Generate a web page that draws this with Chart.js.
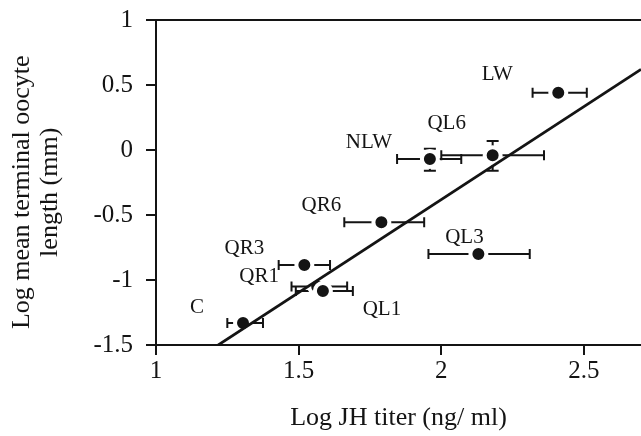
<!DOCTYPE html>
<html>
<head>
<meta charset="utf-8">
<script src="https://cdn.jsdelivr.net/npm/chart.js@4"></script>
<style>
  html, body { margin: 0; padding: 0; background: #fff; }
  #wrap { width: 641px; height: 436px; }
</style>
</head>
<body>
<div id="wrap"><canvas id="chart"></canvas></div>
<script>
// Data
const groups     = ['LW', 'NLW', 'QL6', 'QR6', 'QL3', 'QR3', 'QR1', 'QL1', 'C'];
const jhTiter    = [2.41, 1.96, 2.18, 1.79, 2.13, 1.52, 1.565, 1.585, 1.305];
const oocyteLen  = [0.44, -0.07, -0.04, -0.555, -0.80, -0.885, -1.05, -1.085, -1.33];
const xErrLow    = [2.32, 1.845, 2.00, 1.66, 1.955, 1.43, 1.475, 1.49, 1.25];
const xErrHigh   = [2.51, 2.07, 2.36, 1.94, 2.31, 1.61, 1.67, 1.69, 1.375];
const yErrLow    = [null, -0.16, -0.16, null, null, null, null, null, null];
const yErrHigh   = [null, 0.01, 0.07, null, null, null, null, null, null];
const fitSlope     = 1.431;
const fitIntercept = -3.243;
const fitRange     = [1.2, 2.7];
const xTicks = [1, 1.5, 2, 2.5];
const yTicks = [1, 0.5, 0, -0.5, -1, -1.5];

// label placement, pixel offsets from each point
const labelOffsets = [[-61, -18], [-61, -17], [-46, -32], [-60, -17], [-14, -17],
                      [-60, -17], [-58, -10], [59, 18], [-46, -15]];

const ink = '#141414';
const serif = '"Liberation Serif", "Times New Roman", serif';

/**
 * Horizontal / vertical error bars, drawn under the points
 */
const errorBars = {
    id: 'errorBars',
    beforeDatasetsDraw(chart) {
        const { ctx, scales: { x, y } } = chart;
        ctx.save();
        ctx.strokeStyle = ink;
        ctx.lineWidth = 2;
        jhTiter.forEach((v, i) => {
            const py = y.getPixelForValue(oocyteLen[i]);
            const px = x.getPixelForValue(v);
            const x0 = x.getPixelForValue(xErrLow[i]);
            const x1 = x.getPixelForValue(xErrHigh[i]);
            ctx.beginPath();
            ctx.moveTo(x0, py); ctx.lineTo(x1, py);
            ctx.moveTo(x0, py - 5); ctx.lineTo(x0, py + 5);
            ctx.moveTo(x1, py - 5); ctx.lineTo(x1, py + 5);
            ctx.stroke();
            if (yErrLow[i] !== null) {
                const y0 = y.getPixelForValue(yErrLow[i]);
                const y1 = y.getPixelForValue(yErrHigh[i]);
                ctx.beginPath();
                ctx.moveTo(px, y0); ctx.lineTo(px, y1);
                ctx.moveTo(px - 6, y0); ctx.lineTo(px + 6, y0);
                ctx.moveTo(px - 6, y1); ctx.lineTo(px + 6, y1);
                ctx.stroke();
            }
        });
        ctx.restore();
    }
};

/**
 * Group labels next to the points, plus the frame line on top
 */
const pointLabels = {
    id: 'pointLabels',
    afterDatasetsDraw(chart) {
        const { ctx, chartArea, scales: { x, y } } = chart;
        ctx.save();
        ctx.fillStyle = ink;
        ctx.font = '21px ' + serif;
        ctx.textAlign = 'center';
        ctx.textBaseline = 'middle';
        groups.forEach((g, i) => {
            const px = x.getPixelForValue(jhTiter[i]) + labelOffsets[i][0];
            const py = y.getPixelForValue(oocyteLen[i]) + labelOffsets[i][1];
            ctx.fillText(g, px, py);
        });
        ctx.strokeStyle = ink;
        ctx.lineWidth = 2;
        ctx.beginPath();
        ctx.moveTo(chartArea.left, chartArea.top);
        ctx.lineTo(chartArea.right, chartArea.top);
        ctx.stroke();
        ctx.restore();
    }
};

const ctx = document.getElementById('chart');
new Chart(ctx, {
    data: {
        datasets: [{
            type: 'line',
            data: fitRange.map(v => ({ x: v, y: fitSlope * v + fitIntercept })),
            borderColor: ink,
            borderWidth: 2.8,
            pointRadius: 0,
            order: 0
        }, {
            type: 'scatter',
            data: jhTiter.map((v, i) => ({ x: v, y: oocyteLen[i] })),
            backgroundColor: ink,
            borderColor: '#fff',
            borderWidth: 4,
            pointRadius: 8,
            order: 1
        }]
    },
    options: {
        responsive: true,
        maintainAspectRatio: false,
        animation: false,
        layout: { autoPadding: false, padding: { top: 20, right: 0, left: 0, bottom: 0 } },
        plugins: { legend: { display: false }, tooltip: { enabled: false } },
        scales: {
            x: {
                type: 'linear',
                min: 1,
                max: 2.7,
                border: { color: ink, width: 2 },
                grid: { drawOnChartArea: false, drawTicks: true, tickLength: 10, color: ink, lineWidth: 2 },
                afterBuildTicks: s => { s.ticks = xTicks.map(v => ({ value: v })); },
                afterFit: s => { s.height = 91; s.paddingLeft = 0; s.paddingRight = 0; },
                ticks: { color: ink, font: { family: serif, size: 25 }, padding: 1, maxRotation: 0,
                         callback: v => String(v) },
                title: {
                    display: true,
                    text: 'Log JH titer (ng/ ml)',
                    color: ink,
                    font: { family: serif, size: 26 },
                    padding: { top: 0, bottom: 2 }
                }
            },
            y: {
                type: 'linear',
                min: -1.5,
                max: 1,
                border: { color: ink, width: 2 },
                grid: { drawOnChartArea: false, drawTicks: true, tickLength: 10, color: ink, lineWidth: 2 },
                afterBuildTicks: s => { s.ticks = yTicks.map(v => ({ value: v })); },
                afterFit: s => { s.width = 156; s.paddingTop = 0; s.paddingBottom = 0; },
                ticks: { color: ink, font: { family: serif, size: 25 }, padding: 13,
                         callback: v => String(v) },
                title: {
                    display: true,
                    // trailing spaces nudge the rotated title down a little
                    text: ['Log mean terminal oocyte   ', 'length (mm)   '],
                    color: ink,
                    font: { family: serif, size: 26, lineHeight: 1.08 },
                    padding: { top: 8, bottom: 0 }
                }
            }
        }
    },
    plugins: [errorBars, pointLabels]
});
</script>
</body>
</html>
